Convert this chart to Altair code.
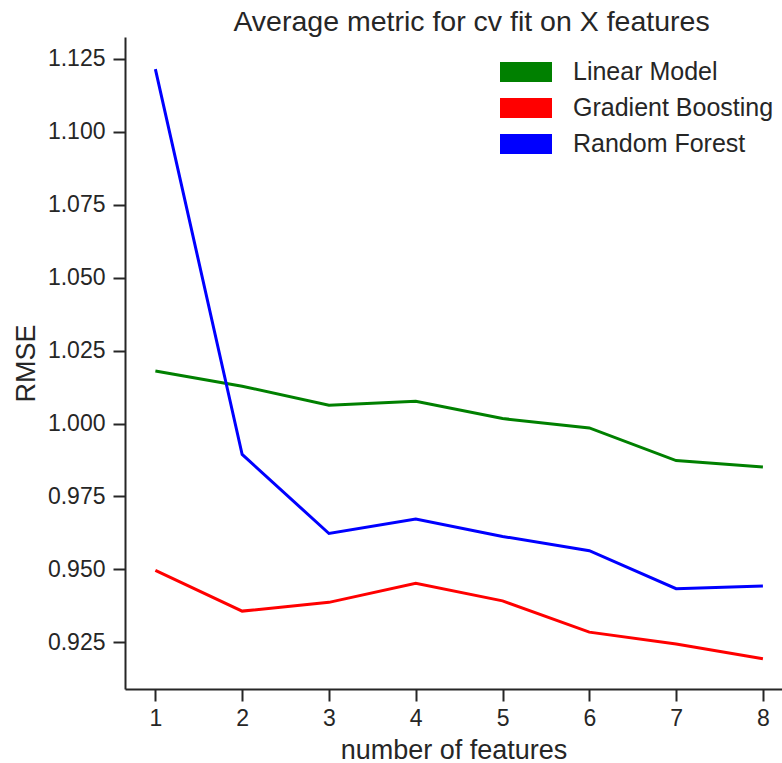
import altair as alt
import pandas as pd

# Cross-validated RMSE per model, by number of input features
n_features = [1, 2, 3, 4, 5, 6, 7, 8]
linear_model = [1.0180, 1.0128, 1.0063, 1.0076, 1.0017, 0.9985, 0.9873, 0.9851]
gradient_boosting = [0.9497, 0.9357, 0.9387, 0.9452, 0.9392, 0.9285, 0.9244, 0.9194]
random_forest = [1.1215, 0.9894, 0.9623, 0.9673, 0.9613, 0.9564, 0.9434, 0.9443]

models = ["Linear Model", "Gradient Boosting", "Random Forest"]
colors = ["green", "red", "blue"]
y_ticks = [0.925, 0.950, 0.975, 1.000, 1.025, 1.050, 1.075, 1.100, 1.125]

series = {
    "Linear Model": linear_model,
    "Gradient Boosting": gradient_boosting,
    "Random Forest": random_forest,
}
rows = []
for name in models:
    for n, v in zip(n_features, series[name]):
        rows.append({"features": n, "rmse": v, "model": name})
df = pd.DataFrame(rows)

FONT = "Liberation Sans"
INK = "#262626"

color = alt.Color(
    "model:N",
    sort=models,
    scale=alt.Scale(domain=models, range=colors),
    legend=alt.Legend(
        title=None,
        orient="none",
        legendX=381,
        legendY=15,
        # filled wide patch, 2.6 : 1
        symbolType="M-1.3,-0.5H1.3V0.5H-1.3Z",
        symbolSize=1600,
        symbolStrokeWidth=0,
        symbolOpacity=1,
        labelFontSize=25,
        labelFont=FONT,
        labelColor=INK,
        labelOffset=27,
        labelLimit=400,
        rowPadding=3,
    ),
)

x = alt.X(
    "features:Q",
    scale=alt.Scale(domain=[0.65, 8.22], nice=False, zero=False),
    axis=alt.Axis(values=n_features, format="d", title="number of features",
                  labelPadding=6, titlePadding=7),
)
y = alt.Y(
    "rmse:Q",
    scale=alt.Scale(domain=[0.909, 1.1325], nice=False, zero=False),
    axis=alt.Axis(values=y_ticks, format=".3f", title="RMSE",
                  labelPadding=8, titlePadding=7),
)

base = alt.Chart(df)
lines = base.mark_line(strokeWidth=3, clip=True).encode(x=x, y=y, color=color)
# empty filled layer so the legend shows solid patches
patches = (
    base.transform_filter("false")
    .mark_square(filled=True, opacity=1)
    .encode(x=x, y=y, color=color)
)

chart = (
    alt.layer(lines, patches)
    .properties(
        width=657,
        height=652,
        padding={"left": 125, "top": 37, "right": 0, "bottom": 74},
        autosize=alt.AutoSizeParams(type="none"),
        title=alt.TitleParams(
            "Average metric for cv fit on X features",
            fontSize=28.5,
            font=FONT,
            color=INK,
            fontWeight="normal",
            offset=1,
            dx=18,
        ),
    )
    .configure_view(stroke=None)
    .configure_axis(
        grid=False,
        domainColor=INK,
        domainWidth=2,
        tickColor=INK,
        tickWidth=2,
        tickSize=12,
        labelFont=FONT,
        labelFontSize=23,
        labelColor=INK,
        titleFont=FONT,
        titleFontSize=27,
        titleColor=INK,
        titleFontWeight="normal",
    )
)

chart.save("out.html", embed_options={"renderer": "svg", "actions": False})
